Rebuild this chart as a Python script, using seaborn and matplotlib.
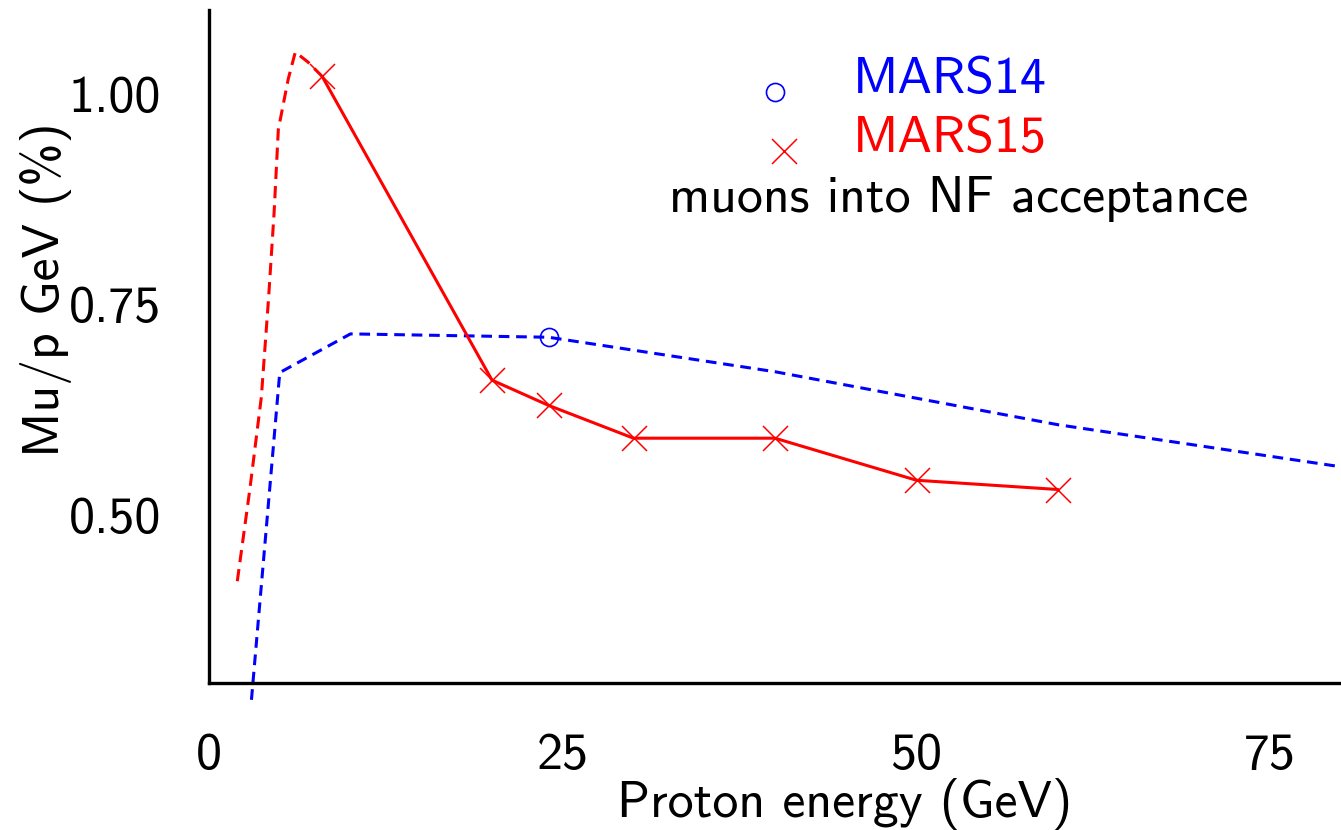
import numpy as np
import pandas as pd
import matplotlib
matplotlib.use("Agg")
import matplotlib.pyplot as plt
import seaborn as sns
from matplotlib.lines import Line2D

# ---- data ----
# MARS15, muon yield points (red crosses joined by a solid line)
m15_energy = [8, 20, 24, 30, 40, 50, 60]
m15_yield = [1.021, 0.660, 0.630, 0.591, 0.591, 0.541, 0.530]

# MARS15 low-energy dashed curve
m15_low_energy = [2.0, 2.9, 3.7, 4.2, 4.6, 4.9, 5.6, 6.1, 7.0, 8.0]
m15_low_yield = [0.421, 0.532, 0.640, 0.755, 0.859, 0.958, 1.018, 1.050, 1.038, 1.021]

# MARS14 dashed curve and its single point
m14_energy = [3.0, 5.0, 10, 24, 40, 60, 80]
m14_yield = [0.280, 0.669, 0.715, 0.711, 0.670, 0.607, 0.557]
m14_pt_energy = [24]
m14_pt_yield = [0.711]

xticks = [0, 25, 50, 75]
yticks = [0.50, 0.75, 1.00]

sns.set_theme(style="white")
plt.rcParams["font.family"] = ["cmss10", "DejaVu Sans"]
plt.rcParams["axes.formatter.use_mathtext"] = True

fs = 37.3

fig = plt.figure(figsize=(13.41, 8.30), dpi=100)
ax = fig.add_axes([209 / 1341, 147 / 830, 1132 / 1341, 673 / 830])

df_low = pd.DataFrame({"E": m15_low_energy, "Y": m15_low_yield})
df14 = pd.DataFrame({"E": m14_energy, "Y": m14_yield})
df15 = pd.DataFrame({"E": m15_energy, "Y": m15_yield})

sns.lineplot(data=df_low, x="E", y="Y", ax=ax, color="#ff0000", lw=2.2,
             sort=False, estimator=None)
ax.lines[-1].set_dashes((4, 2.3))
sns.lineplot(data=df14, x="E", y="Y", ax=ax, color="#0000ff", lw=2.2,
             sort=False, estimator=None)
ax.lines[-1].set_dashes((3.5, 2.2))
ax.lines[-1].set_clip_on(False)
sns.lineplot(data=df15, x="E", y="Y", ax=ax, color="#ff0000", lw=2.2,
             sort=False, estimator=None, marker="x", markersize=18,
             markeredgewidth=1.1, markeredgecolor="#ff0000")
ax.plot(m14_pt_energy, m14_pt_yield, ls="none", marker="o", markersize=13,
        markerfacecolor="none", markeredgecolor="#0000ff", markeredgewidth=1.2)

ax.set_xlim(0, 80)
ax.set_ylim(0.30, 1.10)
ax.set_xticks(xticks)
ax.set_yticks(yticks)
ax.set_xticklabels([str(v) for v in xticks])
ax.set_yticklabels([f"{v:.2f}" for v in yticks])

for s in ["top", "right"]:
    ax.spines[s].set_visible(False)
for s in ["left", "bottom"]:
    ax.spines[s].set_linewidth(2.4)
    ax.spines[s].set_color("black")

ax.tick_params(axis="both", direction="in", length=16.5, width=2.0,
               colors="black", labelsize=fs)
ax.tick_params(axis="y", pad=34.5)
ax.tick_params(axis="x", pad=36)

ax.set_xlabel("Proton energy (GeV)", fontsize=fs, color="black")
ax.set_ylabel("Mu/p GeV (%)", fontsize=fs, color="black")
ax.xaxis.set_label_coords(0.5614, -0.1407)
ax.yaxis.set_label_coords(-0.121, 0.585)

handles = [
    Line2D([], [], ls="none", marker="o", markersize=13, markerfacecolor="none",
           markeredgecolor="#0000ff", markeredgewidth=1.2),
    Line2D([], [], ls="none", marker="x", markersize=18, markeredgecolor="#ff0000",
           markeredgewidth=1.1),
]
leg = ax.legend(handles, ["MARS14", "MARS15"], loc="upper left",
                bbox_to_anchor=(0.477, 0.931), frameon=False, fontsize=fs,
                handlelength=1.0, handletextpad=1.0, labelspacing=0.25,
                borderpad=0, borderaxespad=0,
                labelcolor=["#0000ff", "#ff0000"])
# drop the legend glyphs to the text baseline, as in the original
for h in leg.legend_handles:
    h.set_ydata([y - 12.5 for y in h.get_ydata()])
# the cross sits a little further right than the circle
cross = leg.legend_handles[1]
cross.set_xdata([x + 6.5 for x in cross.get_xdata()])

ax.text(0.6625, 0.700, "muons into NF acceptance", transform=ax.transAxes,
        ha="center", va="baseline", fontsize=fs, color="black")

fig.savefig("out.png", dpi=100)
